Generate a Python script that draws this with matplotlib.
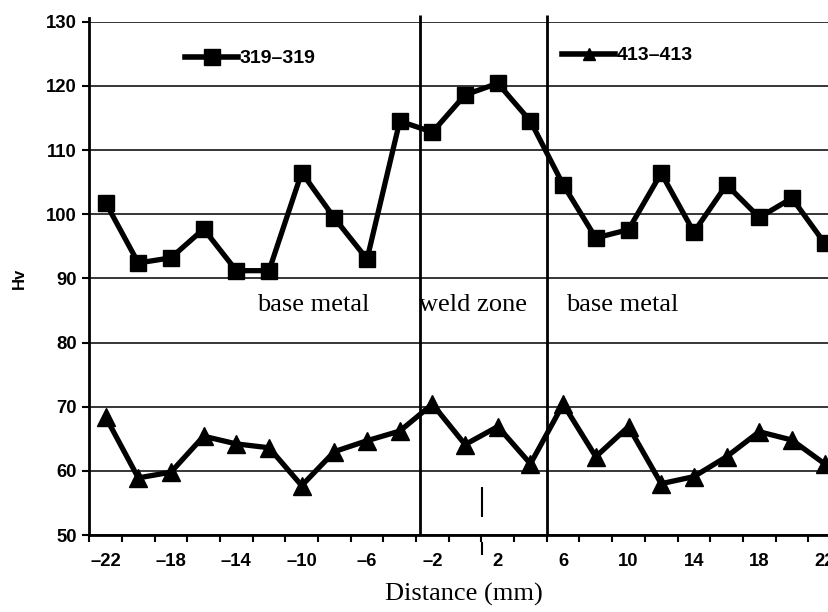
import numpy as np
import matplotlib.pyplot as plt
from matplotlib.lines import Line2D

# data
distance = [-22, -20, -18, -16, -14, -12, -10, -8, -6, -4, -2, 0, 2, 4,
            6, 8, 10, 12, 14, 16, 18, 20, 22]
hv_319 = [101.8, 92.4, 93.2, 97.7, 91.2, 91.2, 106.5, 99.4, 93.0, 114.5,
          112.8, 118.6, 120.4, 114.5, 104.6, 96.3, 97.6, 106.4, 97.2, 104.6,
          99.5, 102.5, 95.5]
hv_413 = [68.4, 58.9, 59.8, 65.4, 64.2, 63.6, 57.7, 63.0, 64.7, 66.2,
          70.4, 64.1, 66.9, 61.1, 70.4, 62.2, 66.9, 58.0, 59.1, 62.2,
          66.1, 64.8, 61.1]
zone_bounds = [-2.77, 5.04]
zone_labels = ['base metal', 'weld zone', 'base metal']
zone_label_x = [-9.3, -2.8, 9.6]
zone_label_ha = ['center', 'left', 'center']
xtick_labels = [-22, -18, -14, -10, -6, -2, 2, 6, 10, 14, 18, 22]
weld_centre = 1.02

fig = plt.figure(figsize=(8.29, 6.12), dpi=100)
ax = fig.add_axes([0.1077, 0.1258, 0.9067, 0.8387])

ax.set_xlim(-23, 23)
ax.set_ylim(50, 130)

# horizontal grid
ax.set_yticks(np.arange(50, 131, 10))
ax.yaxis.grid(True, color='black', linewidth=1.1)
ax.set_axisbelow(True)

# category boundaries get tick marks, labels sit between them
ax.set_xticks(np.arange(-23, 24, 2))
ax.set_xticklabels([])
ax.set_xticks(xtick_labels, minor=True)
ax.set_xticklabels([str(v).replace('-', '\u2013') for v in xtick_labels], minor=True)
ax.tick_params(axis='x', which='major', direction='out', length=5, width=1.5)
ax.tick_params(axis='x', which='minor', length=0, pad=13)
ax.tick_params(axis='y', direction='out', length=5, width=1.5, pad=4)
for lab in ax.get_xticklabels(minor=True) + ax.get_yticklabels():
    lab.set_fontfamily('Liberation Sans')
    lab.set_fontweight('bold')
    lab.set_fontsize(13.3)

for s in ['top', 'right']:
    ax.spines[s].set_visible(False)
ax.spines['left'].set_linewidth(2)
ax.spines['bottom'].set_linewidth(2)
ax.spines['left'].set_bounds(50, 130.6)

# zone boundaries
ax.vlines(zone_bounds, 50, 131, colors='black', linewidth=2, clip_on=False)
ax.vlines(weld_centre, 52.8, 57.5, colors='black', linewidth=1.5)
ax.vlines(weld_centre, 46.9, 48.9, colors='black', linewidth=1.5, clip_on=False)

l1, = ax.plot(distance, hv_319, color='black', linewidth=3.8, marker='s',
              markersize=11.5, clip_on=False, zorder=3)
l2, = ax.plot(distance, hv_413, color='black', linewidth=3.8, marker='^',
              markersize=12.5, clip_on=False, zorder=3)

for x, t, ha in zip(zone_label_x, zone_labels, zone_label_ha):
    ax.text(x, 85.8, t, fontsize=19, family='Liberation Serif', ha=ha, va='center')

leg_kw = dict(loc='center left', frameon=False, handlelength=2.73, handletextpad=0.1,
              borderpad=0, borderaxespad=0,
              prop={'family': 'Liberation Sans', 'weight': 'bold', 'size': 14})
leg1 = ax.legend([Line2D([], [], color='black', linewidth=4, marker='s', markersize=12)],
                 ['319\u2013319'], bbox_to_anchor=(0.1273, 0.928), **leg_kw)
ax.add_artist(leg1)
ax.legend([Line2D([], [], color='black', linewidth=4, marker='^', markersize=8)],
          ['413\u2013413'], bbox_to_anchor=(0.6289, 0.934), **leg_kw)

ax.set_xlabel('Distance (mm)', family='Liberation Serif', fontsize=19)
ax.xaxis.set_label_coords(0.4985, -0.093)
ax.set_ylabel('Hv', family='Liberation Sans', fontweight='bold', fontsize=12)
ax.yaxis.set_label_coords(-0.083, 0.5)

fig.savefig('out.png', dpi=100)
